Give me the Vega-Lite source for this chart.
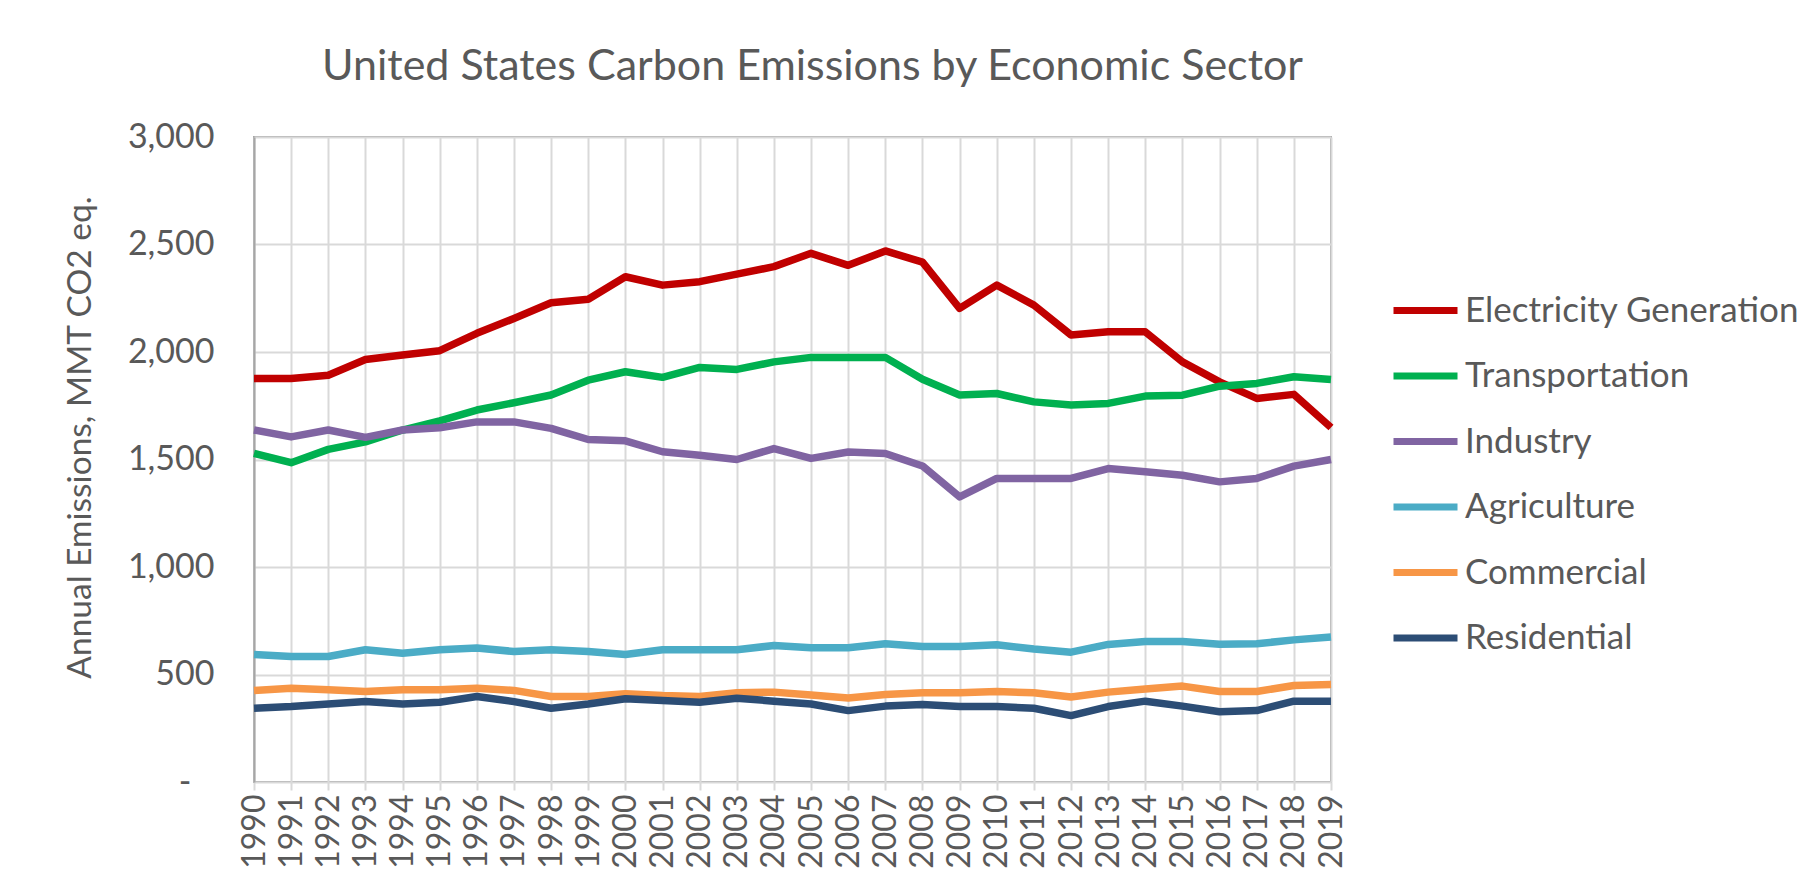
{
  "$schema": "https://vega.github.io/schema/vega-lite/v6.json",
  "width": 1077,
  "height": 645,
  "autosize": {"type": "none"},
  "padding": {"left": 254, "top": 137, "right": 488, "bottom": 100},
  "background": "white",
  "title": {
    "text": "United States Carbon Emissions by Economic Sector",
    "font": "Lato",
    "fontSize": 43,
    "fontWeight": "normal",
    "color": "#595959",
    "anchor": "middle",
    "offset": 31,
    "dx": 20
  },
  "config": {
    "view": {"stroke": "#a6a6a6", "strokeWidth": 2},
    "font": "Lato"
  },
  "data": {
    "values": [
      {"year": 1990, "sector": "Electricity Generation", "value": 1877},
      {"year": 1991, "sector": "Electricity Generation", "value": 1877},
      {"year": 1992, "sector": "Electricity Generation", "value": 1892},
      {"year": 1993, "sector": "Electricity Generation", "value": 1965},
      {"year": 1994, "sector": "Electricity Generation", "value": 1986},
      {"year": 1995, "sector": "Electricity Generation", "value": 2006},
      {"year": 1996, "sector": "Electricity Generation", "value": 2087},
      {"year": 1997, "sector": "Electricity Generation", "value": 2156},
      {"year": 1998, "sector": "Electricity Generation", "value": 2229},
      {"year": 1999, "sector": "Electricity Generation", "value": 2245},
      {"year": 2000, "sector": "Electricity Generation", "value": 2350},
      {"year": 2001, "sector": "Electricity Generation", "value": 2311},
      {"year": 2002, "sector": "Electricity Generation", "value": 2327},
      {"year": 2003, "sector": "Electricity Generation", "value": 2362},
      {"year": 2004, "sector": "Electricity Generation", "value": 2397},
      {"year": 2005, "sector": "Electricity Generation", "value": 2459},
      {"year": 2006, "sector": "Electricity Generation", "value": 2403},
      {"year": 2007, "sector": "Electricity Generation", "value": 2470},
      {"year": 2008, "sector": "Electricity Generation", "value": 2418},
      {"year": 2009, "sector": "Electricity Generation", "value": 2203},
      {"year": 2010, "sector": "Electricity Generation", "value": 2311},
      {"year": 2011, "sector": "Electricity Generation", "value": 2218},
      {"year": 2012, "sector": "Electricity Generation", "value": 2079},
      {"year": 2013, "sector": "Electricity Generation", "value": 2094},
      {"year": 2014, "sector": "Electricity Generation", "value": 2094},
      {"year": 2015, "sector": "Electricity Generation", "value": 1954},
      {"year": 2016, "sector": "Electricity Generation", "value": 1861},
      {"year": 2017, "sector": "Electricity Generation", "value": 1784},
      {"year": 2018, "sector": "Electricity Generation", "value": 1803},
      {"year": 2019, "sector": "Electricity Generation", "value": 1649},
      {"year": 1990, "sector": "Transportation", "value": 1528},
      {"year": 1991, "sector": "Transportation", "value": 1485},
      {"year": 1992, "sector": "Transportation", "value": 1547},
      {"year": 1993, "sector": "Transportation", "value": 1582},
      {"year": 1994, "sector": "Transportation", "value": 1637},
      {"year": 1995, "sector": "Transportation", "value": 1680},
      {"year": 1996, "sector": "Transportation", "value": 1730},
      {"year": 1997, "sector": "Transportation", "value": 1764},
      {"year": 1998, "sector": "Transportation", "value": 1800},
      {"year": 1999, "sector": "Transportation", "value": 1869},
      {"year": 2000, "sector": "Transportation", "value": 1908},
      {"year": 2001, "sector": "Transportation", "value": 1882},
      {"year": 2002, "sector": "Transportation", "value": 1928},
      {"year": 2003, "sector": "Transportation", "value": 1919},
      {"year": 2004, "sector": "Transportation", "value": 1954},
      {"year": 2005, "sector": "Transportation", "value": 1975},
      {"year": 2006, "sector": "Transportation", "value": 1975},
      {"year": 2007, "sector": "Transportation", "value": 1975},
      {"year": 2008, "sector": "Transportation", "value": 1873},
      {"year": 2009, "sector": "Transportation", "value": 1800},
      {"year": 2010, "sector": "Transportation", "value": 1807},
      {"year": 2011, "sector": "Transportation", "value": 1768},
      {"year": 2012, "sector": "Transportation", "value": 1753},
      {"year": 2013, "sector": "Transportation", "value": 1761},
      {"year": 2014, "sector": "Transportation", "value": 1795},
      {"year": 2015, "sector": "Transportation", "value": 1799},
      {"year": 2016, "sector": "Transportation", "value": 1841},
      {"year": 2017, "sector": "Transportation", "value": 1854},
      {"year": 2018, "sector": "Transportation", "value": 1885},
      {"year": 2019, "sector": "Transportation", "value": 1872},
      {"year": 1990, "sector": "Industry", "value": 1637},
      {"year": 1991, "sector": "Industry", "value": 1605},
      {"year": 1992, "sector": "Industry", "value": 1637},
      {"year": 1993, "sector": "Industry", "value": 1603},
      {"year": 1994, "sector": "Industry", "value": 1637},
      {"year": 1995, "sector": "Industry", "value": 1648},
      {"year": 1996, "sector": "Industry", "value": 1675},
      {"year": 1997, "sector": "Industry", "value": 1675},
      {"year": 1998, "sector": "Industry", "value": 1645},
      {"year": 1999, "sector": "Industry", "value": 1593},
      {"year": 2000, "sector": "Industry", "value": 1587},
      {"year": 2001, "sector": "Industry", "value": 1536},
      {"year": 2002, "sector": "Industry", "value": 1520},
      {"year": 2003, "sector": "Industry", "value": 1500},
      {"year": 2004, "sector": "Industry", "value": 1551},
      {"year": 2005, "sector": "Industry", "value": 1505},
      {"year": 2006, "sector": "Industry", "value": 1535},
      {"year": 2007, "sector": "Industry", "value": 1528},
      {"year": 2008, "sector": "Industry", "value": 1470},
      {"year": 2009, "sector": "Industry", "value": 1326},
      {"year": 2010, "sector": "Industry", "value": 1412},
      {"year": 2011, "sector": "Industry", "value": 1412},
      {"year": 2012, "sector": "Industry", "value": 1412},
      {"year": 2013, "sector": "Industry", "value": 1458},
      {"year": 2014, "sector": "Industry", "value": 1443},
      {"year": 2015, "sector": "Industry", "value": 1427},
      {"year": 2016, "sector": "Industry", "value": 1396},
      {"year": 2017, "sector": "Industry", "value": 1412},
      {"year": 2018, "sector": "Industry", "value": 1469},
      {"year": 2019, "sector": "Industry", "value": 1500},
      {"year": 1990, "sector": "Agriculture", "value": 593},
      {"year": 1991, "sector": "Agriculture", "value": 584},
      {"year": 1992, "sector": "Agriculture", "value": 584},
      {"year": 1993, "sector": "Agriculture", "value": 615},
      {"year": 1994, "sector": "Agriculture", "value": 599},
      {"year": 1995, "sector": "Agriculture", "value": 615},
      {"year": 1996, "sector": "Agriculture", "value": 623},
      {"year": 1997, "sector": "Agriculture", "value": 607},
      {"year": 1998, "sector": "Agriculture", "value": 615},
      {"year": 1999, "sector": "Agriculture", "value": 607},
      {"year": 2000, "sector": "Agriculture", "value": 593},
      {"year": 2001, "sector": "Agriculture", "value": 615},
      {"year": 2002, "sector": "Agriculture", "value": 615},
      {"year": 2003, "sector": "Agriculture", "value": 615},
      {"year": 2004, "sector": "Agriculture", "value": 635},
      {"year": 2005, "sector": "Agriculture", "value": 624},
      {"year": 2006, "sector": "Agriculture", "value": 624},
      {"year": 2007, "sector": "Agriculture", "value": 643},
      {"year": 2008, "sector": "Agriculture", "value": 630},
      {"year": 2009, "sector": "Agriculture", "value": 630},
      {"year": 2010, "sector": "Agriculture", "value": 638},
      {"year": 2011, "sector": "Agriculture", "value": 619},
      {"year": 2012, "sector": "Agriculture", "value": 604},
      {"year": 2013, "sector": "Agriculture", "value": 640},
      {"year": 2014, "sector": "Agriculture", "value": 654},
      {"year": 2015, "sector": "Agriculture", "value": 654},
      {"year": 2016, "sector": "Agriculture", "value": 641},
      {"year": 2017, "sector": "Agriculture", "value": 643},
      {"year": 2018, "sector": "Agriculture", "value": 661},
      {"year": 2019, "sector": "Agriculture", "value": 674},
      {"year": 1990, "sector": "Commercial", "value": 426},
      {"year": 1991, "sector": "Commercial", "value": 436},
      {"year": 1992, "sector": "Commercial", "value": 429},
      {"year": 1993, "sector": "Commercial", "value": 421},
      {"year": 1994, "sector": "Commercial", "value": 429},
      {"year": 1995, "sector": "Commercial", "value": 429},
      {"year": 1996, "sector": "Commercial", "value": 436},
      {"year": 1997, "sector": "Commercial", "value": 426},
      {"year": 1998, "sector": "Commercial", "value": 398},
      {"year": 1999, "sector": "Commercial", "value": 398},
      {"year": 2000, "sector": "Commercial", "value": 410},
      {"year": 2001, "sector": "Commercial", "value": 402},
      {"year": 2002, "sector": "Commercial", "value": 398},
      {"year": 2003, "sector": "Commercial", "value": 415},
      {"year": 2004, "sector": "Commercial", "value": 418},
      {"year": 2005, "sector": "Commercial", "value": 405},
      {"year": 2006, "sector": "Commercial", "value": 391},
      {"year": 2007, "sector": "Commercial", "value": 407},
      {"year": 2008, "sector": "Commercial", "value": 415},
      {"year": 2009, "sector": "Commercial", "value": 415},
      {"year": 2010, "sector": "Commercial", "value": 421},
      {"year": 2011, "sector": "Commercial", "value": 415},
      {"year": 2012, "sector": "Commercial", "value": 395},
      {"year": 2013, "sector": "Commercial", "value": 418},
      {"year": 2014, "sector": "Commercial", "value": 433},
      {"year": 2015, "sector": "Commercial", "value": 446},
      {"year": 2016, "sector": "Commercial", "value": 421},
      {"year": 2017, "sector": "Commercial", "value": 421},
      {"year": 2018, "sector": "Commercial", "value": 449},
      {"year": 2019, "sector": "Commercial", "value": 453},
      {"year": 1990, "sector": "Residential", "value": 343},
      {"year": 1991, "sector": "Residential", "value": 351},
      {"year": 1992, "sector": "Residential", "value": 363},
      {"year": 1993, "sector": "Residential", "value": 374},
      {"year": 1994, "sector": "Residential", "value": 363},
      {"year": 1995, "sector": "Residential", "value": 371},
      {"year": 1996, "sector": "Residential", "value": 398},
      {"year": 1997, "sector": "Residential", "value": 374},
      {"year": 1998, "sector": "Residential", "value": 343},
      {"year": 1999, "sector": "Residential", "value": 363},
      {"year": 2000, "sector": "Residential", "value": 387},
      {"year": 2001, "sector": "Residential", "value": 379},
      {"year": 2002, "sector": "Residential", "value": 371},
      {"year": 2003, "sector": "Residential", "value": 390},
      {"year": 2004, "sector": "Residential", "value": 376},
      {"year": 2005, "sector": "Residential", "value": 363},
      {"year": 2006, "sector": "Residential", "value": 332},
      {"year": 2007, "sector": "Residential", "value": 353},
      {"year": 2008, "sector": "Residential", "value": 360},
      {"year": 2009, "sector": "Residential", "value": 351},
      {"year": 2010, "sector": "Residential", "value": 351},
      {"year": 2011, "sector": "Residential", "value": 343},
      {"year": 2012, "sector": "Residential", "value": 309},
      {"year": 2013, "sector": "Residential", "value": 351},
      {"year": 2014, "sector": "Residential", "value": 376},
      {"year": 2015, "sector": "Residential", "value": 353},
      {"year": 2016, "sector": "Residential", "value": 327},
      {"year": 2017, "sector": "Residential", "value": 332},
      {"year": 2018, "sector": "Residential", "value": 376},
      {"year": 2019, "sector": "Residential", "value": 376}
    ]
  },
  "mark": {"type": "line", "strokeWidth": 7.5, "strokeJoin": "round"},
  "encoding": {
    "x": {
      "field": "year",
      "type": "ordinal",
      "scale": {"type": "point", "padding": 0},
      "axis": {
        "title": null,
        "labelAngle": 270,
        "labelAlign": "right",
        "labelBaseline": "middle",
        "labelFont": "Lato",
        "labelFontSize": 32,
        "labelColor": "#595959",
        "labelPadding": 4,
        "domain": false,
        "grid": true,
        "gridColor": "#d9d9d9",
        "gridWidth": 2,
        "ticks": true,
        "tickColor": "#d9d9d9",
        "tickWidth": 2,
        "tickSize": 8
      }
    },
    "y": {
      "field": "value",
      "type": "quantitative",
      "scale": {"domain": [0, 3000], "nice": false},
      "axis": {
        "title": "Annual Emissions, MMT CO2 eq.",
        "titleFont": "Lato",
        "titleFontSize": 33.5,
        "titleFontWeight": "normal",
        "titleColor": "#595959",
        "titlePadding": 30,
        "titleY": 300,
        "values": [0, 500, 1000, 1500, 2000, 2500, 3000],
        "labelExpr": "datum.value == 0 ? '-' : format(datum.value, ',')",
        "labelFont": "Lato",
        "labelFontSize": 34,
        "labelColor": "#595959",
        "labelPadding": {"condition": {"test": "datum.value == 0", "value": 63}, "value": 40},
        "ticks": false,
        "domain": true,
        "domainColor": "#a6a6a6",
        "domainWidth": 2,
        "grid": true,
        "gridColor": "#d9d9d9",
        "gridWidth": 2
      }
    },
    "color": {
      "field": "sector",
      "type": "nominal",
      "scale": {
        "domain": ["Electricity Generation", "Transportation", "Industry", "Agriculture", "Commercial", "Residential"],
        "range": ["#C00000", "#00B050", "#8064A2", "#4BACC6", "#F79646", "#2C4D75"]
      },
      "legend": {
        "title": null,
        "orient": "none",
        "legendX": 1136,
        "legendY": 138,
        "padding": 0,
        "symbolType": "stroke",
        "symbolSize": 4096,
        "symbolStrokeWidth": 7,
        "labelFont": "Lato",
        "labelFontSize": 35,
        "labelColor": "#595959",
        "labelOffset": 4,
        "rowPadding": 11.5,
        "labelLimit": 600
      }
    }
  }
}
